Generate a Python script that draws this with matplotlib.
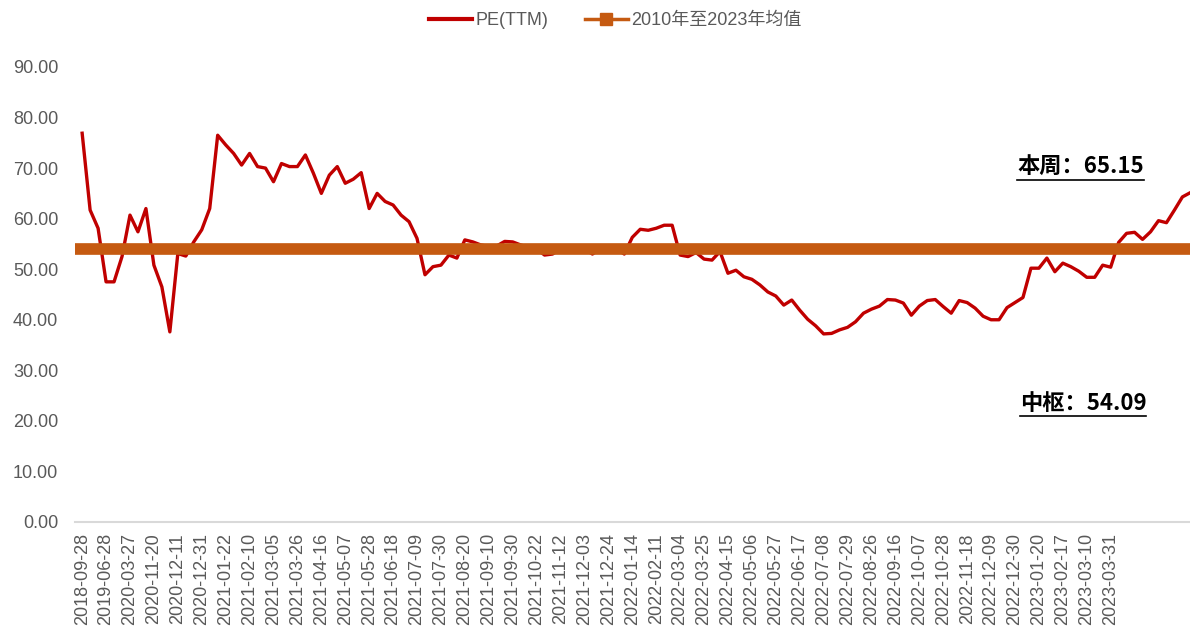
import matplotlib
matplotlib.use('Agg')
import matplotlib.pyplot as plt
from matplotlib.lines import Line2D
import numpy as np

plt.rcParams['font.family'] = ['Liberation Sans', 'Noto Sans CJK SC', 'DejaVu Sans']

# data
pe_ttm = [76.9, 61.7, 58.1, 47.5, 47.5, 52.5, 60.7, 57.4, 62.0, 50.8,
          46.5, 37.6, 53.1, 52.6, 55.4, 57.8, 62.0, 76.5, 74.6, 72.9,
          70.6, 72.9, 70.3, 70.0, 67.3, 70.9, 70.3, 70.3, 72.6, 69.0,
          65.0, 68.6, 70.3, 67.0, 67.8, 69.1, 62.0, 65.0, 63.4, 62.7,
          60.7, 59.4, 56.1, 48.9, 50.5, 50.8, 52.8, 52.2, 55.8, 55.4,
          54.8, 54.5, 54.6, 55.5, 55.4, 54.8, 54.3, 54.0, 52.8, 53.0,
          54.0, 54.2, 54.5, 54.0, 53.0, 54.0, 54.3, 54.0, 53.0, 56.3,
          57.9, 57.7, 58.1, 58.7, 58.7, 52.8, 52.5, 53.3, 52.0, 51.8,
          53.5, 49.2, 49.8, 48.5, 48.0, 46.9, 45.5, 44.7, 42.9, 43.9,
          41.9, 40.1, 38.8, 37.2, 37.3, 38.0, 38.5, 39.6, 41.3, 42.1,
          42.7, 44.0, 43.9, 43.3, 40.9, 42.7, 43.8, 44.0, 42.6, 41.3,
          43.8, 43.4, 42.3, 40.7, 40.0, 40.0, 42.4, 43.4, 44.4, 50.2,
          50.2, 52.2, 49.5, 51.2, 50.5, 49.6, 48.4, 48.4, 50.8, 50.4,
          55.3, 57.1, 57.3, 55.9, 57.4, 59.6, 59.2, 61.7, 64.3, 65.15]
avg_value = 54.09  # 2010-2023 mean

# tick labels, one every 3 points
tick_labels = ['2018-09-28', '2019-06-28', '2020-03-27', '2020-11-20', '2020-12-11',
               '2020-12-31', '2021-01-22', '2021-02-10', '2021-03-05', '2021-03-26',
               '2021-04-16', '2021-05-07', '2021-05-28', '2021-06-18', '2021-07-09',
               '2021-07-30', '2021-08-20', '2021-09-10', '2021-09-30', '2021-10-22',
               '2021-11-12', '2021-12-03', '2021-12-24', '2022-01-14', '2022-02-11',
               '2022-03-04', '2022-03-25', '2022-04-15', '2022-05-06', '2022-05-27',
               '2022-06-17', '2022-07-08', '2022-07-29', '2022-08-26', '2022-09-16',
               '2022-10-07', '2022-10-28', '2022-11-18', '2022-12-09', '2022-12-30',
               '2023-01-20', '2023-02-17', '2023-03-10', '2023-03-31']
label_now = '本周：65.15'
label_mid = '中枢：54.09'

n = len(pe_ttm)
x = np.arange(n)

fig = plt.figure(figsize=(11.9, 6.35), dpi=100)
ax = fig.add_axes([0.063, 0.178, 0.939, 0.7165])

grey = '#595959'
ax.plot(x, pe_ttm, color='#C00000', lw=2.4, label='PE(TTM)', zorder=2)
# mean band across whole plot
ax.axhline(avg_value, color='#C55A11', lw=8.4, solid_capstyle='butt', zorder=3)

ax.set_xlim(-0.9, n - 0.75)
ax.set_ylim(0, 90)
ax.set_yticks(np.arange(0, 91, 10))
ax.set_yticklabels(['%.2f' % v for v in np.arange(0, 91, 10)], color=grey, fontsize=13)
ax.set_xticks(np.arange(0, 3 * len(tick_labels), 3))
ax.set_xticklabels(tick_labels, rotation=90, color=grey, fontsize=13)
ax.tick_params(axis='both', length=0)
ax.tick_params(axis='y', pad=12)
ax.tick_params(axis='x', pad=8)

for s in ['top', 'right', 'left']:
    ax.spines[s].set_visible(False)
ax.spines['bottom'].set_color('#D9D9D9')
ax.spines['bottom'].set_linewidth(1.5)

# legend
h1 = Line2D([], [], color='#C00000', lw=3)
h2 = Line2D([], [], color='#C55A11', lw=2.5, marker='s', markersize=8)
fig.legend([h1, h2], ['PE(TTM)', '2010年至2023年均值'], loc='center',
           bbox_to_anchor=(0.517, 0.968), ncol=2, frameon=False, fontsize=13,
           labelcolor=grey, handlelength=2.4, columnspacing=2.0, handletextpad=0.2)

# annotations with underline
t1 = ax.text(0.9, 0.78, label_now, transform=ax.transAxes, ha='center', va='center',
             fontsize=16, fontweight='bold', family=['Noto Sans CJK SC'])
t2 = ax.text(0.902, 0.261, label_mid, transform=ax.transAxes, ha='center', va='center',
             fontsize=16, fontweight='bold', family=['Noto Sans CJK SC'])
fig.canvas.draw()
r = fig.canvas.get_renderer()
for t in [t1, t2]:
    bb = t.get_window_extent(r)
    fx0, fy0 = fig.transFigure.inverted().transform((bb.x0, bb.y0 - 1))
    fx1, _ = fig.transFigure.inverted().transform((bb.x1, bb.y0))
    fig.add_artist(Line2D([fx0, fx1], [fy0, fy0], color='black', lw=1.2,
                          transform=fig.transFigure))

fig.savefig('out.png', dpi=100)
